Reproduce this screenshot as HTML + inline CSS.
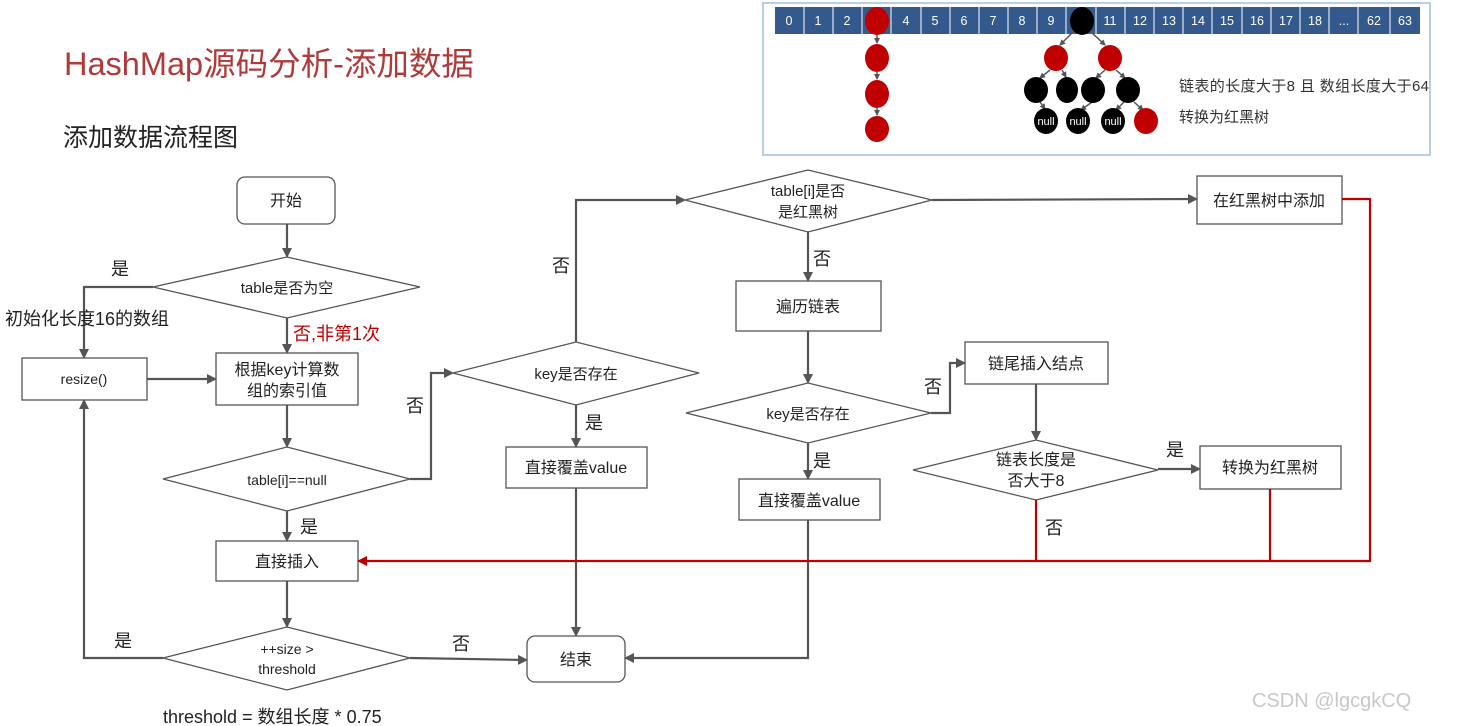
<!DOCTYPE html>
<html><head><meta charset="utf-8"><style>
html,body{margin:0;padding:0;background:#fff;}
svg{display:block;font-family:"Liberation Sans","Noto Sans CJK SC",sans-serif;}
</style></head><body>
<svg width="1465" height="726" viewBox="0 0 1465 726" xmlns="http://www.w3.org/2000/svg">
<defs>
<marker id="a" markerWidth="10" markerHeight="10" refX="8" refY="5" orient="auto" markerUnits="userSpaceOnUse"><path d="M0,0 L10,5 L0,10 z" fill="#555"/></marker>
<marker id="r" markerWidth="10" markerHeight="10" refX="8" refY="5" orient="auto" markerUnits="userSpaceOnUse"><path d="M0,0 L10,5 L0,10 z" fill="#c00000"/></marker>
<marker id="s" markerWidth="6" markerHeight="6" refX="5" refY="3" orient="auto" markerUnits="userSpaceOnUse"><path d="M0,0 L6,3 L0,6 z" fill="#555"/></marker>
</defs>
<text x="64" y="75" font-size="32.5" fill="#b03a3a">HashMap源码分析-添加数据</text>
<text x="63" y="146" font-size="25" fill="#222">添加数据流程图</text>

<!-- top panel -->
<rect x="763" y="3" width="667" height="152" fill="#fff" stroke="#b9cfe8" stroke-width="2"/>
<g font-size="12.5" fill="#fff" text-anchor="middle">
<rect x="775" y="7" width="645" height="27" fill="#34598c"/>
<g stroke="#fff" stroke-width="1">
<line x1="804" y1="7" x2="804" y2="34"/><line x1="833" y1="7" x2="833" y2="34"/><line x1="862" y1="7" x2="862" y2="34"/><line x1="891" y1="7" x2="891" y2="34"/><line x1="921" y1="7" x2="921" y2="34"/><line x1="950" y1="7" x2="950" y2="34"/><line x1="979" y1="7" x2="979" y2="34"/><line x1="1008" y1="7" x2="1008" y2="34"/><line x1="1037" y1="7" x2="1037" y2="34"/><line x1="1066" y1="7" x2="1066" y2="34"/><line x1="1096" y1="7" x2="1096" y2="34"/><line x1="1125" y1="7" x2="1125" y2="34"/><line x1="1154" y1="7" x2="1154" y2="34"/><line x1="1183" y1="7" x2="1183" y2="34"/><line x1="1212" y1="7" x2="1212" y2="34"/><line x1="1242" y1="7" x2="1242" y2="34"/><line x1="1271" y1="7" x2="1271" y2="34"/><line x1="1300" y1="7" x2="1300" y2="34"/><line x1="1329" y1="7" x2="1329" y2="34"/><line x1="1358" y1="7" x2="1358" y2="34"/><line x1="1390" y1="7" x2="1390" y2="34"/>
</g>
<text x="789" y="25">0</text><text x="818" y="25">1</text><text x="847" y="25">2</text><text x="906" y="25">4</text><text x="935" y="25">5</text><text x="964" y="25">6</text><text x="993" y="25">7</text><text x="1022" y="25">8</text><text x="1051" y="25">9</text><text x="1110" y="25">11</text><text x="1140" y="25">12</text><text x="1169" y="25">13</text><text x="1198" y="25">14</text><text x="1227" y="25">15</text><text x="1257" y="25">16</text><text x="1286" y="25">17</text><text x="1315" y="25">18</text><text x="1344" y="25">...</text><text x="1374" y="25">62</text><text x="1405" y="25">63</text>
</g>
<g stroke="#555" stroke-width="1.5" marker-end="url(#s)">
<line x1="877" y1="35" x2="877" y2="43"/><line x1="877" y1="72" x2="877" y2="79"/><line x1="877" y1="108" x2="877" y2="115"/>
<line x1="1074" y1="31" x2="1060" y2="45"/><line x1="1090" y1="31" x2="1105" y2="45"/>
<line x1="1050" y1="70" x2="1040" y2="78"/><line x1="1062" y1="70" x2="1066" y2="77"/><line x1="1105" y1="70" x2="1096" y2="78"/><line x1="1116" y1="70" x2="1125" y2="78"/>
<line x1="1040" y1="102" x2="1045" y2="109"/><line x1="1092" y1="102" x2="1081" y2="110"/><line x1="1124" y1="102" x2="1116" y2="110"/><line x1="1134" y1="102" x2="1143" y2="110"/>
</g>
<g fill="#c00000">
<ellipse cx="877" cy="21" rx="12" ry="14"/><ellipse cx="877" cy="58" rx="12" ry="14"/><ellipse cx="877" cy="94" rx="12" ry="14"/><ellipse cx="877" cy="129" rx="12" ry="13"/>
<ellipse cx="1056" cy="58" rx="12" ry="13"/><ellipse cx="1110" cy="58" rx="12" ry="13"/><ellipse cx="1146" cy="121" rx="12" ry="13"/>
</g>
<g fill="#000">
<ellipse cx="1082" cy="21" rx="12" ry="14"/>
<ellipse cx="1036" cy="90" rx="12" ry="13"/><ellipse cx="1067" cy="90" rx="11" ry="13"/><ellipse cx="1093" cy="90" rx="12" ry="13"/><ellipse cx="1128" cy="90" rx="12" ry="13"/>
<ellipse cx="1046" cy="121" rx="12" ry="13"/><ellipse cx="1078" cy="121" rx="12" ry="13"/><ellipse cx="1113" cy="121" rx="12" ry="13"/>
</g>
<g font-size="11" fill="#fff" text-anchor="middle"><text x="1046" y="125">null</text><text x="1078" y="125">null</text><text x="1113" y="125">null</text></g>
<text x="1179" y="91" font-size="15" fill="#333" textLength="250">链表的长度大于8 且 数组长度大于64</text>
<text x="1179" y="122" font-size="15" fill="#333">转换为红黑树</text>

<!-- shapes -->
<g fill="#fff" stroke="#555" stroke-width="1.3">
<rect x="237" y="177" width="98" height="47" rx="8"/>
<polygon points="153,287 287,257 420,287 287,318"/>
<rect x="22" y="358" width="125" height="42"/>
<rect x="216" y="353" width="142" height="52"/>
<polygon points="163,479 287,447 410,479 287,511"/>
<rect x="216" y="541" width="142" height="40"/>
<polygon points="163,658 287,627 410,658 287,690"/>
<rect x="527" y="636" width="98" height="46" rx="8"/>
<polygon points="453,373 576,342 699,373 576,405"/>
<rect x="506" y="447" width="141" height="41"/>
<polygon points="685,200 808,170 932,200 808,232"/>
<rect x="736" y="281" width="145" height="50"/>
<polygon points="686,413 808,383 931,413 808,443"/>
<rect x="739" y="479" width="141" height="41"/>
<rect x="1197" y="176" width="145" height="48"/>
<rect x="965" y="342" width="143" height="42"/>
<polygon points="913,470 1036,440 1158,470 1036,500"/>
<rect x="1200" y="446" width="141" height="43"/>
</g>
<g font-size="16" fill="#222" text-anchor="middle">
<text x="286" y="206">开始</text>
<text x="287" y="293" font-size="15">table是否为空</text>
<text x="84" y="384" font-size="14">resize()</text>
<text x="287" y="375">根据key计算数</text><text x="287" y="396">组的索引值</text>
<text x="287" y="485" font-size="14">table[i]==null</text>
<text x="287" y="567">直接插入</text>
<text x="287" y="654" font-size="14">++size &gt;</text><text x="287" y="674" font-size="14">threshold</text>
<text x="576" y="665">结束</text>
<text x="576" y="379" font-size="15">key是否存在</text>
<text x="576" y="473">直接覆盖value</text>
<text x="808" y="196" font-size="15">table[i]是否</text><text x="808" y="217" font-size="15">是红黑树</text>
<text x="808" y="312">遍历链表</text>
<text x="808" y="419" font-size="15">key是否存在</text>
<text x="809" y="506">直接覆盖value</text>
<text x="1269" y="206">在红黑树中添加</text>
<text x="1036" y="369">链尾插入结点</text>
<text x="1036" y="465">链表长度是</text><text x="1036" y="486">否大于8</text>
<text x="1270" y="473">转换为红黑树</text>
</g>

<!-- connectors -->
<g fill="none" stroke="#555" stroke-width="2.2" marker-end="url(#a)">
<line x1="287" y1="224" x2="287" y2="256"/>
<polyline points="153,287 84,287 84,357"/>
<line x1="287" y1="318" x2="287" y2="352"/>
<line x1="147" y1="379" x2="215" y2="379"/>
<line x1="287" y1="405" x2="287" y2="446"/>
<polyline points="410,479 431,479 431,373 452,373"/>
<line x1="287" y1="511" x2="287" y2="540"/>
<line x1="287" y1="581" x2="287" y2="626"/>
<polyline points="163,658 84,658 84,401"/>
<polyline points="410,658 526,660"/>
<polyline points="576,342 576,200 684,200"/>
<line x1="576" y1="405" x2="576" y2="446"/>
<line x1="576" y1="488" x2="576" y2="635"/>
<line x1="932" y1="200" x2="1196" y2="199"/>
<line x1="808" y1="232" x2="808" y2="280"/>
<line x1="808" y1="331" x2="808" y2="382"/>
<polyline points="931,413 950,413 950,363 964,363"/>
<line x1="808" y1="443" x2="808" y2="478"/>
<polyline points="808,520 808,658 626,658"/>
<line x1="1036" y1="384" x2="1036" y2="439"/>
<line x1="1158" y1="469" x2="1199" y2="469"/>
</g>
<g fill="none" stroke="#c00000" stroke-width="2.2">
<line x1="1036" y1="500" x2="1036" y2="561"/>
<line x1="1270" y1="489" x2="1270" y2="561"/>
<polyline points="1342,199 1370,199 1370,561 359,561" marker-end="url(#r)"/>
</g>

<!-- labels -->
<g font-size="18" fill="#222">
<text x="111" y="275">是</text>
<text x="5" y="325">初始化长度16的数组</text>
<text x="293" y="340" fill="#c00000">否,非第1次</text>
<text x="406" y="412">否</text>
<text x="300" y="533">是</text>
<text x="114" y="647">是</text>
<text x="452" y="650">否</text>
<text x="552" y="272">否</text>
<text x="585" y="429">是</text>
<text x="813" y="265">否</text>
<text x="924" y="393">否</text>
<text x="813" y="467">是</text>
<text x="1166" y="456">是</text>
<text x="1045" y="534">否</text>
<text x="163" y="723">threshold = 数组长度 * 0.75</text>
</g>
<text x="1252" y="707" font-size="20" fill="#c8c8c8">CSDN @lgcgkCQ</text>
</svg>
</body></html>
